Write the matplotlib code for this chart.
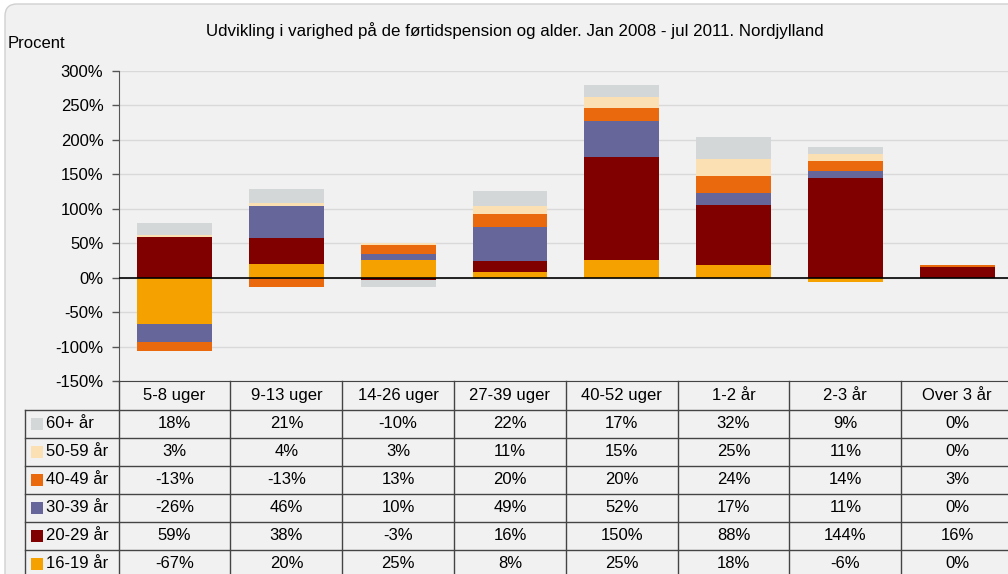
import numpy as np
import matplotlib.pyplot as plt
from matplotlib.patches import FancyBboxPatch, Rectangle
from matplotlib.transforms import blended_transform_factory
from matplotlib.ticker import FuncFormatter, MultipleLocator

plt.rcParams['font.family'] = ['Liberation Sans', 'DejaVu Sans']

# data (percent)
categories = ['5-8 uger', '9-13 uger', '14-26 uger', '27-39 uger',
              '40-52 uger', '1-2 år', '2-3 år', 'Over 3 år']
age_16_19 = [-67, 20, 25, 8, 25, 18, -6, 0]
age_20_29 = [59, 38, -3, 16, 150, 88, 144, 16]
age_30_39 = [-26, 46, 10, 49, 52, 17, 11, 0]
age_40_49 = [-13, -13, 13, 20, 20, 24, 14, 3]
age_50_59 = [3, 4, 3, 11, 15, 25, 11, 0]
age_60 = [18, 21, -10, 22, 17, 32, 9, 0]

# stacking order (bottom first)
series = [
    ('16-19 år', age_16_19, '#f5a200'),
    ('20-29 år', age_20_29, '#800000'),
    ('30-39 år', age_30_39, '#67669a'),
    ('40-49 år', age_40_49, '#ea690c'),
    ('50-59 år', age_50_59, '#fbe0b4'),
    ('60+ år', age_60, '#d4d7d8'),
]

W, H = 1008, 574
fig = plt.figure(figsize=(W / 100, H / 100), dpi=100)
fig.patch.set_facecolor('white')

# rounded chart frame
frame = FancyBboxPatch((0.05, -0.5), 10.6, 6.2, boxstyle='round,pad=0,rounding_size=0.12',
                       transform=fig.dpi_scale_trans, facecolor='#f0f1f0',
                       edgecolor='#d0d0d0', lw=1, zorder=-10)
fig.patches.append(frame)

ax_l, ax_r, ax_t, ax_b = 118.7, 1013, 71, 381
ax = fig.add_axes([ax_l / W, 1 - ax_b / H, (ax_r - ax_l) / W, (ax_b - ax_t) / H])
ax.set_facecolor('none')
ax.set_zorder(1)

x = np.arange(len(categories))
pos = np.zeros(len(categories))
neg = np.zeros(len(categories))
for label, vals, col in series:
    v = np.array(vals, dtype=float)
    bottom = np.where(v >= 0, pos, neg)
    ax.bar(x, v, width=0.67, bottom=bottom, color=col, zorder=3)
    pos += np.where(v > 0, v, 0)
    neg += np.where(v < 0, v, 0)

ax.axhline(0, color='black', lw=1.2, zorder=4)
ax.set_xlim(-0.5, len(categories) - 0.5)
ax.set_ylim(-150, 300)
ax.yaxis.set_major_locator(MultipleLocator(50))
ax.yaxis.set_major_formatter(FuncFormatter(lambda v, p: f'{v:.0f}%'))
ax.yaxis.grid(True, color='#d9d9d9', lw=1)
ax.set_axisbelow(True)
ax.tick_params(axis='y', labelsize=12, length=5, width=1, color='#555555', pad=6)
ax.set_xticks([])
for s in ['top', 'right']:
    ax.spines[s].set_visible(False)
ax.spines['left'].set_color('#555555')
ax.spines['bottom'].set_color('#444444')

fig.text(514.5 / W, 1 - 31 / H, 'Udvikling i varighed på de førtidspension og alder. Jan 2008 - jul 2011. Nordjylland',
         ha='center', va='center', fontsize=12.2)
fig.text(8 / W, 1 - 43 / H, 'Procent', ha='left', va='center', fontsize=12)

# data table below the axes
tr = blended_transform_factory(ax.transData, ax.transAxes)
hdr = 29 / (ax_b - ax_t)
rh = 28 / (ax_b - ax_t)
col_w = (ax_r - ax_l) / len(categories)
label_left = -0.5 - (ax_l - 25.3) / col_w
n_rows = len(series)
table_bottom = -(hdr + n_rows * rh)
line_kw = dict(color='#444444', lw=1, transform=tr, clip_on=False)

for i, cat in enumerate(categories):
    ax.text(i, -hdr / 2, cat, ha='center', va='center', fontsize=12, transform=tr)

for r, (label, vals, col) in enumerate(series[::-1]):
    yc = -hdr - rh * (r + 0.5)
    for i, v in enumerate(vals):
        ax.text(i, yc, f'{v}%', ha='center', va='center', fontsize=12, transform=tr)
    sq = 12 / col_w
    ax.add_patch(Rectangle((label_left + 6 / col_w, yc - 6 / (ax_b - ax_t)), sq, 12 / (ax_b - ax_t),
                           facecolor=col, edgecolor='none', transform=tr, clip_on=False))
    ax.text(label_left + 21 / col_w, yc, label, ha='left', va='center', fontsize=12, transform=tr)

for r in range(n_rows + 1):
    yy = -hdr - rh * r
    ax.plot([label_left, len(categories) - 0.5], [yy, yy], **line_kw)
for k in range(len(categories) + 1):
    ax.plot([k - 0.5, k - 0.5], [0, table_bottom], **line_kw)
ax.plot([label_left, label_left], [-hdr, table_bottom], **line_kw)

fig.savefig('out.png', dpi=100)
